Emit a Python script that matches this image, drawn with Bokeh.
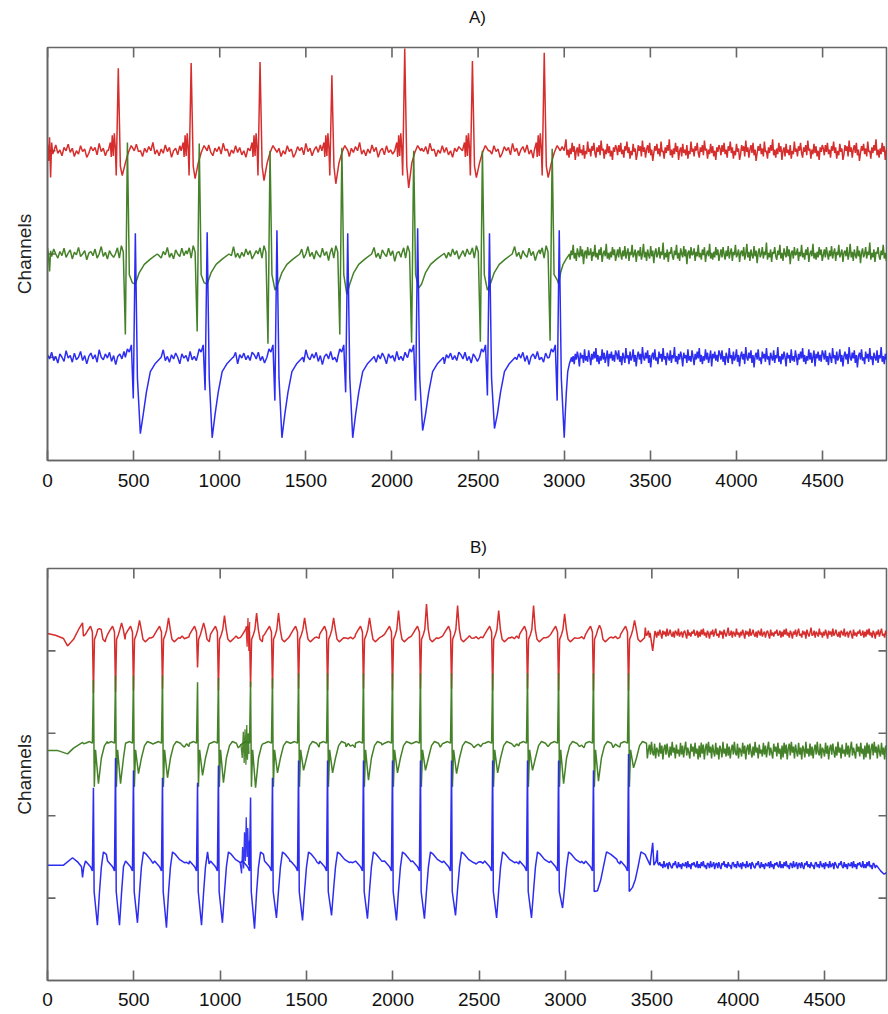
import numpy as np
from bokeh.plotting import figure
from bokeh.layouts import column
from bokeh.models import Range1d, LinearAxis, FixedTicker, Div
from bokeh.embed import file_html
from bokeh.resources import INLINE

# ---------------- shared ----------------
X_TICKS = [0, 500, 1000, 1500, 2000, 2500, 3000, 3500, 4000, 4500]
RED, GREEN, BLUE = "#d42222", "#3a7a1c", "#2222f0"
FRAME = "#666666"
FONT = "Liberation Sans"

# ---------------- Panel A data ----------------
A_YTICKS = [1, 2, 3]
A_red_beats = [411, 834, 1234, 1651, 2074, 2467, 2884]
A_red_spike = [0.80, 0.85, 0.86, 0.73, 0.99, 0.87, 0.95]
A_red_trough = [-0.24, -0.27, -0.29, -0.32, -0.36, -0.26, -0.26]
A_red_template = [(-58, 0), (-46, 0.08), (-41, -0.06), (-35, 0.15), (-29, -0.05), (-23, 0.17),
                  (-17, 0.02), (-12, -0.24), (0, 'S'), (12, -0.15), (23, 'T'), (41, -0.12),
                  (58, -0.02), (75, 0.05), (93, 0)]
A_red_lead_x = [0, 6, 12, 18, 24, 30]
A_red_lead_y = [3.06, 2.90, 3.13, 2.74, 3.08, 2.97]

A_green_beats = [452, 869, 1280, 1697, 2114, 2513, 2918]
A_green_down = [-0.78, -0.75, -0.87, -0.78, -0.86, -0.85, -0.84]
A_green_up = [1.08, 1.07, 1.00, 1.03, 1.00, 1.00, 1.02]
A_green_trough = [-0.28, -0.28, -0.35, -0.39, -0.33, -0.35, -0.25]
A_green_width = [1, 1, 1, 1, 1, 1, 0.5]
A_green_template = [(-58, 0), (-46, 0.06), (-35, -0.04), (-23, 0.08), (-12, 0.02), (0, 'D'),
                    (12, 'S'), (23, -0.20), (41, 'T'), (58, -0.29), (81, -0.18), (110, -0.10),
                    (145, -0.05), (185, 0)]
A_green_lead_x = [0, 6, 12, 18]
A_green_lead_y = [2.06, 1.98, 1.83, 2.03]

A_blue_beats = [510, 927, 1332, 1743, 2149, 2566, 2971]
A_blue_dip = [-0.40, -0.32, -0.42, -0.34, -0.42, -0.37, -0.42]
A_blue_spike = [1.20, 1.21, 1.23, 1.20, 1.25, 1.20, 1.23]
A_blue_trough = [-0.74, -0.78, -0.78, -0.78, -0.71, -0.69, -0.78]
A_blue_width = [1, 1, 1, 1, 1, 1, 0.35]
A_blue_template = [(-58, 0), (-46, 0.08), (-35, 0.05), (-23, 0.12), (-12, 'D'), (0, 'S'),
                   (12, -0.20), (29, 'T'), (46, -0.55), (64, -0.34), (87, -0.14), (116, -0.06),
                   (150, 0)]

A_red_noise = [2, -4, 5, -1, 7, -3, 1, -6, 4, 0, 8, -2, 3, -7, 0, -4, 6, -1, 2, -8, -3, 5, 0, 4, -5,
               9, -1, 3, -6, 1, 5, -2, 7, -4, 1, -9, -2, 4, 0, 6, -3, 2, -5, 8, -1, 0, -7, 3, -2, 5,
               0, 10, -4, 1, -6, 2, -3, 7, -1, 4, -8, 0, 3, -5, 6, -2, 1, -4, 5, -7, 0, -3, 8, -1, 2,
               -5, 4, 0, 7, -2, -6, 3, -1, 5, -4, 9, 0, 2, -7, 1, -3, 6, -2, 4, -5, 0, -8, 3, -1, 5]
A_green_noise = [-1, 4, -3, 6, 0, -5, 3, -2, 7, -4, 1, 5, -6, 2, -1, 8, -3, 0, 4, -7, 1, 3, -2, 6, -5,
                 0, 9, -3, 2, -6, 4, -1, -4, 7, -2, 3, -8, 1, 5, -3, 0, 6, -4, 2, -1, 10, -5, 1, -3, 4,
                 -7, 2, 0, 6, -2, -5, 3, -1, 8, -4, 1, -6, 5, 0, -3, 7, -2, 4, -9, 1, 3, -4, 6, -1, 0,
                 5, -6, 2, -2, 8, -3, 1, -5, 4, -1, 6, -7, 0, 3, -2, 9, -4, 1, -5, 2, -3, 6, -1, 4, -6]
A_blue_noise = [3, -2, 6, -4, 1, -7, 4, 0, -5, 8, -1, 2, -6, 5, -3, 0, 7, -4, 2, -8, 1, 5, -2, 3, -6,
                9, 0, -3, 4, -1, 6, -5, 2, -9, 1, 4, -2, 7, -3, 0, -6, 5, -1, 3, -4, 8, -2, 1, -7, 4,
                0, -3, 6, -5, 2, -1, 9, -4, 1, -6, 3, -2, 5, 0, -8, 4, -1, 2, -5, 7, -3, 1, -4, 6, 0,
                -7, 3, -2, 5, -1, 8, -4, 2, -6, 1, -3, 7, -2, 4, -5, 0, 6, -8, 3, -1, 5, -3, 2, -4, 6]

# ---------------- Panel B data ----------------
B_YTICKS = [1, 2, 3, 4]
B_beats = [266, 394, 498, 666, 869, 990, 1176, 1303, 1454, 1622, 1830, 1998, 2160, 2340, 2578,
           2780, 2960, 3162, 3365]
B_red_down = [-0.67, -0.66, -0.64, -0.62, -0.36, -0.64, -0.60, -0.62, -0.62, -0.64, -0.62, -0.64,
              -0.62, -0.62, -0.64, -0.62, -0.64, -0.64, -0.64]
B_red_peak = [0.11, 0.18, 0.21, 0.24, 0.18, 0.27, 0.30, 0.30, 0.24, 0.24, 0.24, 0.33, 0.41, 0.39,
              0.33, 0.39, 0.29, 0.15, 0.21]
B_red_template = [(-46, 0.04), (-29, 0.10), (-17, 0.14), (-6, 0.07), (0, 'D'), (6, -0.02),
                  (17, 0.04), (25, 0.10), (35, 'S'), (45, 0.10), (55, -0.02), (68, -0.05),
                  (93, 0)]
B_red_lead_x = [0, 46, 93, 116, 151, 180, 203]
B_red_lead_y = [4.21, 4.19, 4.15, 4.06, 4.14, 4.26, 4.34]

B_green_up = [0.80, 0.85, 0.85, 0.85, 0.77, 0.82, 0.78, 0.82, 0.88, 0.88, 0.88, 0.88, 0.88, 0.88,
              0.88, 0.88, 0.88, 0.88, 0.88]
B_green_trough = [-0.46, -0.46, -0.34, -0.39, -0.36, -0.45, -0.51, -0.33, -0.30, -0.33, -0.42,
                  -0.33, -0.30, -0.34, -0.33, -0.30, -0.46, -0.43, -0.27]
B_green_template = [(-46, 0.03), (-23, 0.05), (-6, 0.03), (0, 'S'), (5, -0.50), (12, -0.05),
                    (29, 'T'), (46, -0.15), (64, 0.0), (81, 0.05), (104, 0.03)]
B_green_lead_x = [0, 60, 116, 151, 203]
B_green_lead_y = [2.79, 2.79, 2.75, 2.82, 2.89]

B_blue_up = [0.91, 1.27, 1.12, 1.03, 0.97, 1.18, 0.79, 1.03, 1.24, 1.24, 1.24, 1.24, 1.24, 1.24,
             1.24, 1.24, 1.24, 1.12, 1.32]
B_blue_trough = [-0.76, -0.76, -0.73, -0.79, -0.76, -0.73, -0.80, -0.67, -0.70, -0.64, -0.68,
                 -0.70, -0.68, -0.64, -0.67, -0.67, -0.55, -0.34, -0.30]
B_blue_rise = [-0.36, -0.36, -0.36, -0.36, -0.36, -0.36, -0.36, -0.34, -0.34, -0.32, -0.34,
               -0.34, -0.34, -0.32, -0.34, -0.34, -0.30, -0.22, -0.20]
B_blue_width = [1] * 17 + [1.5, 1.4]
B_blue_template = [(-46, 0.02), (-17, -0.05), (-6, -0.10), (0, 'S'), (4, -0.35), (23, 'T'),
                   (35, 'H'), (46, -0.05), (58, 0.13), (75, 0.10), (98, 0.04), (127, 0)]
B_blue_lead_x = [0, 93, 145, 174, 197, 203, 209]
B_blue_lead_y = [1.40, 1.40, 1.49, 1.44, 1.38, 1.25, 1.36]

B_red_event_x = [3490, 3505, 3518]
B_red_event_y = [4.22, 4.00, 4.24]
B_blue_event_x = [3490, 3505, 3512, 3525, 3532, 3540]
B_blue_event_y = [1.40, 1.67, 1.40, 1.45, 1.58, 1.40]
B_blue_end_x = [4800, 4825, 4845, 4859]
B_blue_end_y = [1.40, 1.33, 1.29, 1.31]

# burst around the beat at 1176
B_red_burst_x = [1150, 1156, 1161, 1166, 1171]
B_red_burst_y = [4.30, 4.05, 4.40, 4.00, 4.35]
B_green_burst_x = [1120, 1128, 1134, 1139, 1144, 1149, 1154, 1158, 1163, 1167]
B_green_burst_y = [2.87, 2.70, 3.02, 2.64, 3.05, 2.62, 3.10, 2.68, 3.00, 2.75]
B_blue_burst_x = [1115, 1124, 1130, 1136, 1141, 1146, 1151, 1156, 1160, 1165, 1170]
B_blue_burst_y = [1.44, 1.30, 1.62, 1.36, 1.80, 1.45, 1.98, 1.50, 1.85, 1.40, 1.70]

B_red_noise = [2, -3, 4, -1, 5, -2, 1, -4, 3, 0, -5, 2, -1, 4, -3, 1, 5, -2, 0, -4, 3, -1, 2, -5, 4,
               0, -3, 1, 6, -2, -1, 3, -4, 2, 0, -3, 5, -1, 1, -4, 2, -2, 4, 0, -5, 3, -1, 2, -3, 5,
               -2, 0, 4, -1, -3, 2, -4, 3, 1, -2, 5, -3, 0, 2, -4, 1, 3, -1, -5, 4, -2, 1, -3, 2, 0,
               4, -2, -1, 3, -4]
B_green_noise = [5, -7, 8, -3, 6, -9, 2, 7, -5, 9, -2, 4, -8, 6, -1, -6, 8, -4, 3, -9, 5, 1, -7, 9,
                 -3, 2, -6, 7, -5, 4, -8, 1, 6, -4, 9, -2, -5, 7, -8, 3, 0, -6, 8, -3, 5, -9, 2, 6,
                 -4, 7, -1, -7, 4, -5, 9, -2, 3, -8, 6, -3, 1, -6, 8, -4, 5, -7, 2, 9, -5, 3, -2, -8,
                 7, -1, 4, -6, 8, -3, 2, -9]
B_blue_noise = [1, -3, 3, -1, 4, -2, 0, -4, 2, 1, -3, 4, -2, 0, 3, -4, 1, 2, -3, 3, -1, -4, 2, 0, 4,
                -2, 1, -3, 3, -1, 0, -4, 2, 3, -2, 1, -3, 4, 0, -2, 2, -4, 3, -1, 1, -3, 4, -2, 0, 2,
                -4, 3, 1, -2, -3, 2, 0, 4, -1, -3, 3, -2, 1, -4, 2, 0, -1, 3, -3, 4, -2, 1, -4, 2, 0,
                3, -1, -2, 4, -3]


def build(beats, template, params, base, noise, pre_scale, tail_start, tail_base, tail_scale,
          x_end, step_pre, step_tail, width=None, extras=()):
    feats, wins = [], []
    starts = [b + template[0][0] for b in beats]
    dxT = next((dx for dx, dy in template if dy == 'T'), None)
    for i, b in enumerate(beats):
        w = width[i] if width else 1.0
        limit = starts[i + 1] if i + 1 < len(beats) else float("inf")
        pts = []
        for dx, dy in template:
            if isinstance(dy, str):
                dy = params[dy][i]
            if dxT is not None and dx > dxT:
                dx = dxT + (dx - dxT) * w
            x = b + dx
            if x >= limit:
                break
            pts.append((x, base + dy))
        feats += pts
        wins.append((pts[0][0], pts[-1][0]))
    for ex, ey in extras:
        feats += list(zip(ex, ey))
        wins.append((min(ex), max(ex)))
    grid = list(np.arange(0, tail_start, step_pre)) + list(np.arange(tail_start, x_end + step_tail, step_tail))
    n = len(noise)
    for k, x in enumerate(grid):
        if any(a - 2 <= x <= c + 2 for a, c in wins):
            continue
        if x < tail_start:
            y = base + noise[k % n] * pre_scale
        else:
            y = tail_base + noise[k % n] * tail_scale
        feats.append((float(x), y))
    feats.sort(key=lambda t: t[0])
    return [f[0] for f in feats], [f[1] for f in feats]


A_XEND, B_XEND = 4871, 4859
A_YEND, B_YEND = 4, 5

a_red = build(A_red_beats, A_red_template, {'S': A_red_spike, 'T': A_red_trough}, 3.0, A_red_noise,
              0.008, 3010, 3.0, 0.011, A_XEND, 12, 6, extras=[(A_red_lead_x, A_red_lead_y)])
a_green = build(A_green_beats, A_green_template, {'S': A_green_up, 'D': A_green_down, 'T': A_green_trough},
                2.0, A_green_noise, 0.008, 3010, 2.0, 0.011, A_XEND, 12, 6, width=A_green_width,
                extras=[(A_green_lead_x, A_green_lead_y)])
a_blue = build(A_blue_beats, A_blue_template, {'S': A_blue_spike, 'D': A_blue_dip, 'T': A_blue_trough},
               1.0, A_blue_noise, 0.008, 3010, 1.0, 0.011, A_XEND, 12, 6, width=A_blue_width)

b_red = build(B_beats, B_red_template, {'S': B_red_peak, 'D': B_red_down}, 4.16, B_red_noise,
              0.004, 3450, 4.21, 0.012, B_XEND, 13, 6,
              extras=[(B_red_lead_x, B_red_lead_y), (B_red_event_x, B_red_event_y)])
b_green = build(B_beats, B_green_template, {'S': B_green_up, 'T': B_green_trough}, 2.85, B_green_noise,
                0.003, 3450, 2.79, 0.012, B_XEND, 13, 6, extras=[(B_green_lead_x, B_green_lead_y)])
b_blue = build(B_beats, B_blue_template, {'S': B_blue_up, 'T': B_blue_trough, 'H': B_blue_rise},
               1.43, B_blue_noise, 0.004, 3450, 1.40, 0.012, B_XEND, 13, 6, width=B_blue_width,
               extras=[(B_blue_lead_x, B_blue_lead_y), (B_blue_event_x, B_blue_event_y),
                       (B_blue_end_x, B_blue_end_y)])


def title_div(text, height, pad_top, pad_left):
    return Div(text=text, width=888, height=height, margin=0,
               styles={"font-family": FONT, "font-size": "17px", "line-height": "20px",
                       "color": "#111111", "padding-top": f"{pad_top}px",
                       "padding-left": f"{pad_left}px", "box-sizing": "border-box"})


def panel(traces, bursts, x_end, y_end, yticks, height, top, bottom, right_border,
          right_ticks, label_standoff):
    p = figure(width=888, height=height, x_range=Range1d(0, x_end), y_range=Range1d(0, y_end),
               x_axis_type=None, y_axis_type=None, output_backend="svg", toolbar_location=None,
               min_border_left=47, min_border_right=right_border, min_border_top=top,
               min_border_bottom=bottom)
    p.outline_line_color = FRAME
    p.outline_line_width = 1.6
    p.background_fill_color = "white"
    p.border_fill_color = "white"

    # tick marks drawn inward (matlab style), lengths in pixels converted to data units
    frame_w = 888 - 47 - right_border
    frame_h = height - top - bottom
    dx_tick = 8 * x_end / frame_w
    dy_tick = 10 * y_end / frame_h
    p.segment(x0=X_TICKS, y0=[y_end] * len(X_TICKS), x1=X_TICKS, y1=[y_end - dy_tick] * len(X_TICKS),
              line_color=FRAME, line_width=1.6)
    p.segment(x0=[0] * len(yticks), y0=yticks, x1=[dx_tick] * len(yticks), y1=yticks,
              line_color=FRAME, line_width=1.6)
    if right_ticks:
        p.segment(x0=[x_end] * len(yticks), y0=yticks, x1=[x_end - dx_tick] * len(yticks), y1=yticks,
                  line_color=FRAME, line_width=1.6)

    for (xs, ys), col in zip(traces, [RED, GREEN, BLUE]):
        p.line(xs, ys, line_color=col, line_width=1.5, line_alpha=0.95)
    for (xs, ys), col in zip(bursts, [RED, GREEN, BLUE]):
        p.line(xs, ys, line_color=col, line_width=1.3, line_alpha=0.9)

    xb = LinearAxis(ticker=FixedTicker(ticks=X_TICKS))
    xb.axis_line_color = FRAME
    xb.axis_line_width = 1.6
    xb.major_tick_line_color = FRAME
    xb.major_tick_line_width = 1.6
    xb.major_tick_in = 10
    xb.major_tick_out = 0
    xb.minor_tick_line_color = None
    xb.major_label_text_font = FONT
    xb.major_label_text_font_size = "19px"
    xb.major_label_text_color = "#111111"
    xb.major_label_standoff = label_standoff
    p.add_layout(xb, "below")

    yl = LinearAxis(ticker=FixedTicker(ticks=[]), axis_label="Channels")
    yl.axis_line_color = FRAME
    yl.axis_line_width = 1.6
    yl.major_tick_line_color = None
    yl.minor_tick_line_color = None
    yl.axis_label_text_font = FONT
    yl.axis_label_text_font_size = "19px"
    yl.axis_label_text_font_style = "normal"
    yl.axis_label_text_color = "#222222"
    yl.axis_label_standoff = 13
    p.add_layout(yl, "left")
    return p


tA = title_div("A)", 28, 8, 469)
pA = panel([a_red, a_green, a_blue], [], A_XEND, A_YEND, A_YTICKS,
           492, 19, 60, 0, False, 13)
tB = title_div("B)", 40, 18, 470)
pB = panel([b_red, b_green, b_blue],
           [(B_red_burst_x, B_red_burst_y), (B_green_burst_x, B_green_burst_y),
            (B_blue_burst_x, B_blue_burst_y)],
           B_XEND, B_YEND, B_YTICKS, 454, 8, 34, 2, True, 12)

layout = column(tA, pA, tB, pB, spacing=0)
open("out.html", "w").write(file_html(layout, INLINE))
